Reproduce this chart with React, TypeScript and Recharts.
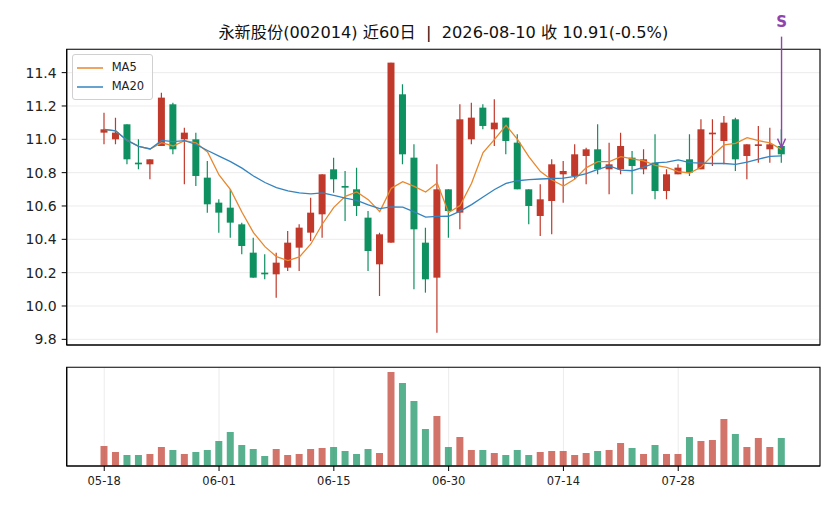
import React from 'react';
import {
  ComposedChart,
  Bar,
  Line,
  XAxis,
  YAxis,
  CartesianGrid,
  Legend,
  Cell,
  ReferenceLine,
  ReferenceArea,
} from 'recharts';

// trading days shown on the chart (MM-DD)
const dates = [
  '05-18', '05-19', '05-20', '05-21', '05-22', '05-25', '05-26', '05-27', '05-28', '05-29',
  '06-01', '06-02', '06-03', '06-04', '06-05', '06-08', '06-09', '06-10', '06-11', '06-12',
  '06-15', '06-16', '06-17', '06-18', '06-22', '06-23', '06-24', '06-25', '06-26', '06-29',
  '06-30', '07-01', '07-02', '07-03', '07-06', '07-07', '07-08', '07-09', '07-10', '07-13',
  '07-14', '07-15', '07-16', '07-17', '07-20', '07-21', '07-22', '07-23', '07-24', '07-27',
  '07-28', '07-29', '07-30', '07-31', '08-03', '08-04', '08-05', '08-06', '08-07', '08-10',
];

const opens = [
  11.04, 11.0, 11.09, 10.86, 10.85, 10.96, 11.21, 11.0, 11.0, 10.77,
  10.62, 10.59, 10.49, 10.32, 10.2, 10.19, 10.23, 10.35, 10.44, 10.55,
  10.82, 10.72, 10.7, 10.53, 10.25, 10.38, 11.27, 10.89, 10.38, 10.17,
  10.7, 10.56, 11.0, 11.19, 11.06, 11.13, 10.98, 10.7, 10.54, 10.63,
  10.79, 10.78, 10.9, 10.94, 10.82, 10.82, 10.89, 10.82, 10.86, 10.69,
  10.79, 10.88, 10.82, 11.03, 10.99, 11.12, 10.9, 10.96, 10.94, 10.96,
];

const highs = [
  11.16, 11.13, 11.09, 11.0, 10.88, 11.28, 11.22, 11.07, 11.04, 10.87,
  10.64, 10.7, 10.5, 10.41, 10.31, 10.32, 10.45, 10.49, 10.65, 10.79,
  10.89, 10.81, 10.83, 10.57, 10.44, 11.46, 11.33, 10.97, 10.47, 10.85,
  10.7, 11.21, 11.22, 11.21, 11.24, 11.13, 11.03, 10.7, 10.73, 10.88,
  10.87, 10.97, 10.95, 11.09, 10.98, 11.04, 10.93, 10.94, 11.03, 10.82,
  10.85, 11.03, 11.12, 11.12, 11.14, 11.13, 10.97, 11.08, 11.07, 11.06,
];

const lows = [
  10.97, 10.97, 10.85, 10.82, 10.76, 10.96, 10.91, 10.73, 10.72, 10.56,
  10.44, 10.41, 10.31, 10.17, 10.16, 10.05, 10.21, 10.21, 10.39, 10.41,
  10.68, 10.51, 10.54, 10.21, 10.06, 10.38, 10.85, 10.1, 10.08, 9.84,
  10.41, 10.46, 10.97, 11.06, 10.96, 10.91, 10.7, 10.49, 10.42, 10.43,
  10.62, 10.76, 10.73, 10.79, 10.67, 10.79, 10.67, 10.79, 10.64, 10.64,
  10.79, 10.78, 10.82, 10.84, 10.85, 10.81, 10.76, 10.86, 10.86, 10.86,
];

const closes = [
  11.06, 11.04, 10.88, 10.85, 10.88, 11.25, 10.94, 11.04, 10.78, 10.61,
  10.56, 10.5, 10.36, 10.17, 10.19, 10.26, 10.38, 10.47, 10.56, 10.79,
  10.76, 10.71, 10.6, 10.33, 10.43, 11.46, 10.91, 10.46, 10.16, 10.7,
  10.57, 11.12, 11.13, 11.08, 11.1, 10.99, 10.7, 10.6, 10.64, 10.85,
  10.81, 10.91, 10.94, 10.82, 10.85, 10.96, 10.84, 10.88, 10.69, 10.79,
  10.83, 10.8, 11.06, 11.04, 11.1, 10.88, 10.97, 10.97, 10.97, 10.91,
];

const volumes = [
  60, 42, 33, 33, 36, 57, 48, 36, 42, 48,
  75, 102, 63, 51, 30, 51, 33, 36, 51, 54,
  57, 45, 36, 51, 39, 282, 249, 195, 111, 150,
  57, 87, 48, 48, 39, 33, 48, 33, 42, 45,
  45, 33, 39, 45, 48, 69, 54, 36, 63, 36,
  36, 87, 75, 78, 141, 96, 57, 84, 57, 84,
];

const priceTicks = [9.8, 10.0, 10.2, 10.4, 10.6, 10.8, 11.0, 11.2, 11.4];
const dateTicks = [0, 10, 20, 30, 40, 50];
const legendOrder = ['MA5', 'MA20'];

// sell signal on the last day
const signalIdx = 59;
const signalLabel = 'S';
const signalTop = 11.616;
const signalTip = 10.95;

const RED = '#c0392b';
const GREEN = '#0f9060';
const ORANGE = '#e8872c';
const BLUE = '#3584bf';
const PURPLE = '#8e44ad';
const GRID = '#e6e6e6';

const xDomain = [-3.27, 62.35];
const yDomain = [9.766, 11.54];
const volDomain = [0, Math.max(...volumes) * 1.05];

const movingAvg = (arr: number[], n: number) =>
  arr.map((_, i) => {
    const s = arr.slice(Math.max(0, i - n + 1), i + 1);
    return s.reduce((a, b) => a + b, 0) / s.length;
  });

const ma5 = movingAvg(closes, 5);
const ma20 = movingAvg(closes, 20);

const data = dates.map((d, i) => ({
  i,
  date: d,
  open: opens[i],
  high: highs[i],
  low: lows[i],
  close: closes[i],
  range: [lows[i], highs[i]],
  vol: volumes[i],
  ma5: ma5[i],
  ma20: ma20[i],
}));

const Candle = (props: any) => {
  const { x, y, width, height, payload } = props;
  const { open, close, high, low } = payload;
  const color = close >= open ? RED : GREEN;
  const top = Math.min(y, y + height);
  const h = Math.abs(height);
  const k = high > low ? h / (high - low) : 0;
  const py = (p: number) => top + (high - p) * k;
  const cx = x + width / 2;
  const bodyTop = py(Math.max(open, close));
  const bodyH = Math.max(py(Math.min(open, close)) - bodyTop, 1);
  return (
    <g>
      <line x1={cx} x2={cx} y1={top} y2={top + h} stroke={color} strokeWidth={1.2} />
      <rect x={x} y={bodyTop} width={width} height={bodyH} fill={color} />
    </g>
  );
};

const SignalArrow = (p: any) => {
  const { x1, y1, x2, y2 } = p;
  return (
    <g>
      <line x1={x1} y1={y1} x2={x2} y2={y2} stroke={PURPLE} strokeWidth={1.4} />
      <polyline
        points={`${x2 - 4},${y2 - 9} ${x2},${y2} ${x2 + 4},${y2 - 9}`}
        fill="none"
        stroke={PURPLE}
        strokeWidth={1.4}
      />
      <text x={x1} y={y1 - 10} textAnchor="middle" fill={PURPLE} fontWeight="bold" fontSize={15}>
        {signalLabel}
      </text>
    </g>
  );
};

const renderLegend = (props: any) => {
  const items = (props.payload || [])
    .filter((e: any) => legendOrder.includes(e.value))
    .sort((a: any, b: any) => legendOrder.indexOf(a.value) - legendOrder.indexOf(b.value));
  return (
    <div
      style={{
        border: '1px solid #d0d0d0',
        borderRadius: 3,
        background: 'rgba(255,255,255,0.8)',
        padding: '3px 8px 3px 4px',
        fontSize: 11.5,
        lineHeight: '19px',
        color: '#222',
      }}
    >
      {items.map((e: any) => (
        <div key={e.value} style={{ display: 'flex', alignItems: 'center' }}>
          <svg width={26} height={4} style={{ marginRight: 9 }}>
            <line x1={0} x2={26} y1={2} y2={2} stroke={e.color} strokeWidth={1.5} />
          </svg>
          <span>{e.value}</span>
        </div>
      ))}
    </div>
  );
};

const tickStyle = { fill: '#222', fontSize: 14 };

export default function App() {
  return (
    <div
      style={{
        position: 'absolute',
        left: 0,
        top: 0,
        width: 836,
        height: 506,
        background: '#fff',
        fontFamily: "'DejaVu Sans', 'Noto Sans CJK SC', sans-serif",
      }}
    >
      <div
        style={{
          position: 'absolute',
          left: 66.7,
          width: 753.3,
          top: 22,
          textAlign: 'center',
          fontSize: 16.2,
          lineHeight: '22px',
          color: '#111',
          whiteSpace: 'pre',
        }}
      >
        {'永新股份(002014) 近60日  |  2026-08-10 收 10.91(-0.5%)'}
      </div>

      <div style={{ position: 'absolute', left: 0, top: 0 }}>
        <ComposedChart
          width={836}
          height={360}
          data={data}
          margin={{ top: 49.3, right: 16, bottom: 0, left: 0 }}
        >
          <CartesianGrid stroke={GRID} strokeWidth={0.8} />
          <XAxis
            dataKey="i"
            type="number"
            domain={xDomain}
            allowDataOverflow
            ticks={dateTicks}
            tick={false}
            tickSize={5}
            height={15}
            axisLine={{ stroke: '#000', strokeWidth: 1.1 }}
            tickLine={{ stroke: '#000' }}
          />
          <YAxis
            type="number"
            domain={yDomain}
            allowDataOverflow
            ticks={priceTicks}
            tickFormatter={(v: number) => v.toFixed(1)}
            width={66.7}
            tickSize={5}
            tickMargin={5}
            tick={tickStyle}
            axisLine={{ stroke: '#000', strokeWidth: 1.1 }}
            tickLine={{ stroke: '#000' }}
          />
          <ReferenceArea
            x1={xDomain[0]}
            x2={xDomain[1]}
            y1={yDomain[0]}
            y2={yDomain[1]}
            fill="none"
            stroke="#000"
            strokeWidth={1.1}
            ifOverflow="visible"
          />
          <Bar
            dataKey="range"
            barSize={7}
            shape={Candle}
            legendType="none"
            isAnimationActive={false}
          />
          <Line
            dataKey="ma5"
            name="MA5"
            type="linear"
            stroke={ORANGE}
            strokeWidth={1.3}
            dot={false}
            activeDot={false}
            isAnimationActive={false}
          />
          <Line
            dataKey="ma20"
            name="MA20"
            type="linear"
            stroke={BLUE}
            strokeWidth={1.3}
            dot={false}
            activeDot={false}
            isAnimationActive={false}
          />
          <ReferenceLine
            segment={[
              { x: signalIdx, y: signalTop },
              { x: signalIdx, y: signalTip },
            ]}
            ifOverflow="visible"
            shape={SignalArrow}
          />
          <Legend
            layout="horizontal"
            verticalAlign="middle"
            align="center"
            wrapperStyle={{ left: 71.7, top: 54.3, width: 'auto', height: 'auto' }}
            content={renderLegend}
          />
        </ComposedChart>
      </div>

      <div style={{ position: 'absolute', left: 0, top: 360 }}>
        <ComposedChart
          width={836}
          height={136}
          data={data}
          margin={{ top: 7.3, right: 16, bottom: 0, left: 0 }}
        >
          <CartesianGrid stroke={GRID} strokeWidth={0.8} horizontal={false} />
          <XAxis
            dataKey="i"
            type="number"
            domain={xDomain}
            allowDataOverflow
            ticks={dateTicks}
            tickFormatter={(v: number) => dates[v]}
            tick={{ fill: '#222', fontSize: 11.5 }}
            tickSize={5}
            tickMargin={6}
            height={30}
            axisLine={{ stroke: '#000', strokeWidth: 1.1 }}
            tickLine={{ stroke: '#000' }}
          />
          <YAxis
            type="number"
            domain={volDomain}
            allowDataOverflow
            width={66.7}
            tick={false}
            tickLine={false}
            axisLine={{ stroke: '#000', strokeWidth: 1.1 }}
          />
          <ReferenceArea
            x1={xDomain[0]}
            x2={xDomain[1]}
            y1={volDomain[0]}
            y2={volDomain[1]}
            fill="none"
            stroke="#000"
            strokeWidth={1.1}
            ifOverflow="visible"
          />
          <Bar dataKey="vol" barSize={7} fillOpacity={0.7} isAnimationActive={false}>
            {data.map((d) => (
              <Cell key={d.i} fill={d.close >= d.open ? RED : GREEN} />
            ))}
          </Bar>
        </ComposedChart>
      </div>
    </div>
  );
}
